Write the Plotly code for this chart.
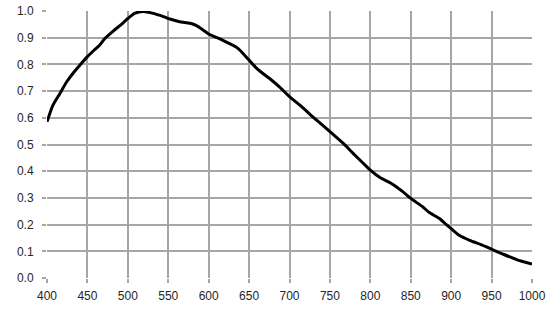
import plotly.graph_objects as go

wavelength = [400, 407.5, 416, 424, 432, 440.6, 450, 458.5, 465, 471.6, 482, 492, 500, 508.4,
              519, 531.5, 544, 552, 564, 577, 585, 593, 600, 617, 635.5, 650, 660, 675,
              687.5, 700, 712.5, 731, 750, 766.5, 779, 791.5, 800, 812, 826, 840.5, 850,
              865, 873, 885.5, 894, 900, 910, 923, 937, 950, 964.5, 981, 1000]
response = [0.585, 0.648, 0.691, 0.733, 0.766, 0.797, 0.829, 0.854, 0.872, 0.897, 0.925, 0.950,
            0.972, 0.991, 0.998, 0.991, 0.979, 0.970, 0.960, 0.954, 0.945, 0.929, 0.914, 0.891,
            0.862, 0.816, 0.783, 0.748, 0.716, 0.679, 0.648, 0.598, 0.548, 0.504, 0.466,
            0.429, 0.404, 0.376, 0.354, 0.3225, 0.298, 0.266, 0.245, 0.223, 0.200, 0.185,
            0.160, 0.141, 0.125, 0.108, 0.089, 0.069, 0.052]

x_ticks = [400, 450, 500, 550, 600, 650, 700, 750, 800, 850, 900, 950, 1000]
y_ticks = [0.0, 0.1, 0.2, 0.3, 0.4, 0.5, 0.6, 0.7, 0.8, 0.9, 1.0]
y_labels = [f"{v:.1f}" for v in y_ticks]

fig = go.Figure(go.Scatter(x=wavelength, y=response, mode="lines",
                           line=dict(color="black", width=3, shape="spline", smoothing=0.6),
                           hoverinfo="skip"))

grid = "#a6a6a6"
font = dict(family="Liberation Sans, Arial", size=12, color="#262626")
fig.update_layout(
    width=554, height=331,
    margin=dict(l=47, r=22, t=11, b=53),
    paper_bgcolor="white", plot_bgcolor="white",
    showlegend=False,
    font=font,
    xaxis=dict(range=[400, 1000], tickvals=x_ticks, ticktext=[str(v) for v in x_ticks],
               showgrid=True, gridcolor=grid, gridwidth=1.5, zeroline=False,
               ticks="outside", ticklen=4, tickcolor=grid, tickwidth=1.5,
               showline=False, ticklabelstandoff=3, tickfont=font, fixedrange=True,
               automargin=False),
    yaxis=dict(range=[0, 1.0], tickvals=y_ticks, ticktext=y_labels,
               showgrid=True, gridcolor=grid, gridwidth=1.5, zeroline=False,
               ticks="outside", ticklen=4, tickcolor=grid, tickwidth=1.5,
               showline=False, ticklabelstandoff=6, tickfont=font, fixedrange=True,
               automargin=False),
)

fig.write_html("out.html", config={"displayModeBar": False},
               post_script="document.body.style.margin='0';document.body.style.padding='0';")
